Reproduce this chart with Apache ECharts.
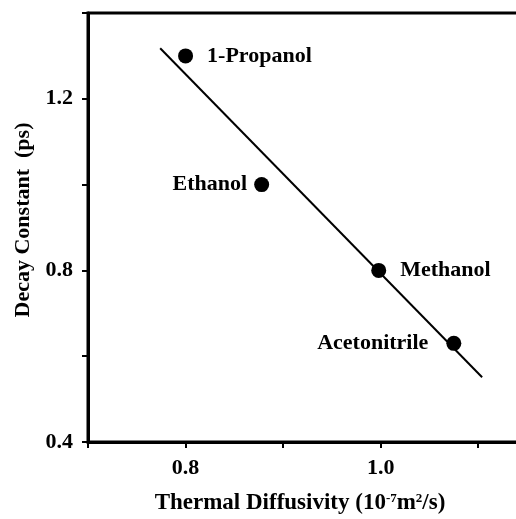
<!DOCTYPE html>
<html>
<head>
<meta charset="utf-8">
<script src="https://cdn.jsdelivr.net/npm/echarts@6/dist/echarts.min.js"></script>
<style>
  html, body { margin: 0; padding: 0; background: #fff; overflow: hidden; }
  #chart { width: 516px; height: 519px; }
</style>
</head>
<body>
<div id="chart"></div>
<script>
// solvents, measured points
const solvents = ['1-Propanol', 'Ethanol', 'Methanol', 'Acetonitrile']
const diffusivity = [0.8, 0.878, 0.998, 1.075]
const decay = [1.30, 1.0, 0.80, 0.63]

// label placement next to each point
const labelSide = ['right', 'left', 'right', 'left']
const labelGap = [14, 7, 14, 18]

// linear fit end points
const fitX = [0.774, 1.104]
const fitY = [1.318, 0.551]

// tick labels that are printed
const xTickLabels = [0.8, 1.0]
const yTickLabels = [0.4, 0.8, 1.2]

const font = '"Liberation Serif", "DejaVu Serif", serif'

const chart = echarts.init(document.getElementById('chart'))

const points = solvents.map((name, i) => ({
  name: name,
  value: [diffusivity[i], decay[i]],
  label: { position: labelSide[i], distance: labelGap[i] }
}))

const option = {
  animation: false,
  grid: {
    left: 88,
    top: 13,
    bottom: 77,
    right: -11,
    outerBoundsMode: 'none',
    containLabel: false,
    show: true,
    borderColor: '#000',
    borderWidth: 3
  },
  xAxis: {
    type: 'value',
    min: 0.7,
    max: 1.15,
    interval: 0.1,
    name: 'Thermal Diffusivity (10{sup|-7}m{sup|2}/s)',
    nameLocation: 'middle',
    nameGap: 50,
    nameTextStyle: {
      fontFamily: font, fontWeight: 'bold', fontSize: 23, color: '#000',
      padding: [0, 15, 0, 0],
      rich: {
        sup: { fontFamily: font, fontWeight: 'bold', fontSize: 13, color: '#000', verticalAlign: 'top', padding: [0, 0, 9, 0] }
      }
    },
    axisLine: { lineStyle: { color: '#000', width: 3 } },
    axisTick: { inside: false, length: 6, lineStyle: { color: '#000', width: 2 } },
    axisLabel: {
      margin: 15,
      fontFamily: font, fontWeight: 'bold', fontSize: 22, color: '#000',
      formatter: v => xTickLabels.some(t => Math.abs(t - v) < 1e-6) ? v.toFixed(1) : ''
    },
    splitLine: { show: false }
  },
  yAxis: {
    type: 'value',
    min: 0.4,
    max: 1.4,
    interval: 0.2,
    name: 'Decay Constant  (ps)',
    nameLocation: 'middle',
    nameGap: 54,
    nameRotate: 90,
    nameTextStyle: {
      fontFamily: font, fontWeight: 'bold', fontSize: 22, color: '#000',
      padding: [0, 0, 0, 15]
    },
    axisLine: { lineStyle: { color: '#000', width: 3 } },
    axisTick: { inside: false, length: 6, lineStyle: { color: '#000', width: 2 } },
    axisLabel: {
      margin: 15,
      fontFamily: font, fontWeight: 'bold', fontSize: 22, color: '#000',
      formatter: v => yTickLabels.some(t => Math.abs(t - v) < 1e-6) ? v.toFixed(1) : ''
    },
    splitLine: { show: false }
  },
  series: [
    {
      type: 'line',
      data: fitX.map((x, i) => [x, fitY[i]]),
      showSymbol: false,
      lineStyle: { color: '#000', width: 2 },
      z: 1
    },
    {
      type: 'scatter',
      data: points,
      symbol: 'circle',
      symbolSize: 15,
      itemStyle: { color: '#000', opacity: 1 },
      label: {
        show: true,
        formatter: '{b}',
        fontFamily: font, fontWeight: 'bold', fontSize: 22, color: '#000'
      },
      z: 2
    }
  ]
}

chart.setOption(option)
</script>
</body>
</html>
